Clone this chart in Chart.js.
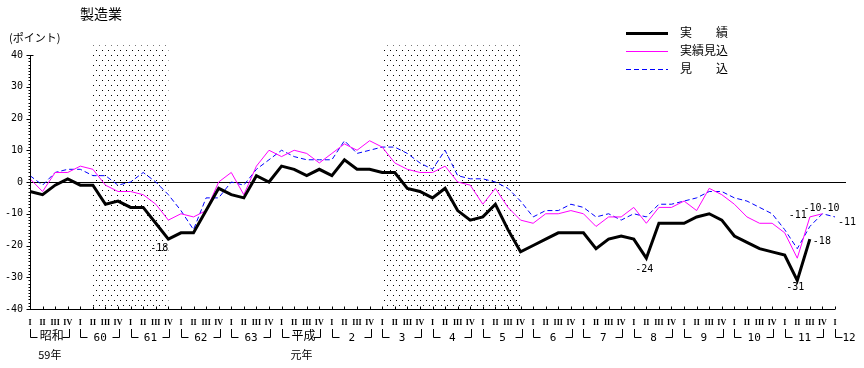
<!DOCTYPE html>
<html>
<head>
<meta charset="utf-8">
<script src="https://cdn.jsdelivr.net/npm/chart.js@4.4.1/dist/chart.umd.min.js"></script>
<style>
  html, body { margin: 0; padding: 0; background: #fff; }
  canvas { display: block; }
</style>
</head>
<body>
<canvas id="chart" width="864" height="368"></canvas>
<script>
// quarter / year tick labels
const quarterNames = ["I", "II", "III", "IV"];
const yearNames = ["昭和", "60", "61", "62", "63", "平成", "2", "3", "4", "5", "6", "7", "8", "9", "10", "11", "12"];
const yearNotes = ["59年", "", "", "", "", "元年", "", "", "", "", "", "", "", "", "", "", ""];
const yTicks = [40, 30, 20, 10, 0, -10, -20, -30, -40];

// 実績 (actual)
const actual = [-3, -4, -1, 1, -1, -1, -7, -6, -8, -8, -13, -18, -16, -16, -9, -2,
  -4, -5, 2, 0, 5, 4, 2, 4, 2, 7, 4, 4, 3, 3, -2, -3,
  -5, -2, -9, -12, -11, -7, -15, -22, -20, -18, -16, -16, -16, -21, -18, -17,
  -18, -24, -13, -13, -13, -11, -10, -12, -17, -19, -21, -22, -23, -31, -18];
// 実績見込 (estimate)
const estimate = [1, -3, 3, 3, 5, 4, -1, -3, -3, -4, -7, -12, -10, -11, -9, 0,
  3, -4, 5, 10, 8, 10, 9, 6, 9, 12, 10, 13, 11, 6, 4, 3,
  3, 5, 0, -1, -7, -2, -8, -12, -13, -10, -10, -9, -10, -14, -11, -11,
  -8, -13, -8, -8, -6, -9, -2, -4, -7, -11, -13, -13, -16, -24, -11, -10];
// 見込 (forecast)
const forecast = [2, -1, 3, 4, 4, 2, 2, -1, 0, 3, 0, -4, -9, -15, -5, -5,
  0, -1, 4, 7, 10, 8, 7, 7, 7, 13, 9, 10, 11, 11, 9, 6,
  4, 10, 2, 1, 1, 0, -2, -6, -11, -9, -9, -7, -8, -11, -10, -12,
  -10, -11, -7, -7, -6, -5, -3, -3, -5, -6, -8, -10, -15, -21, -14, -10, -11];

// shaded periods (quarter index from..to)
const recessions = [[5, 11], [28, 39]];

// points that carry a value label
const actualMarks = [11, 49, 61, 62];
const estimateMarks = [62, 63];
const forecastMarks = [63, 64];

const labels = [];
yearNames.forEach((y, i) => {
  const n = i === yearNames.length - 1 ? 1 : 4;
  for (let q = 0; q < n; q++) labels.push(y + " " + quarterNames[q]);
});

const JP = "'Noto Sans CJK JP', sans-serif";
const NUM = "'DejaVu Sans Mono', monospace";

function dotPattern(ctx) {
  const c = document.createElement("canvas");
  c.width = 6;
  c.height = 10;
  const p = c.getContext("2d");
  p.fillStyle = "#000";
  p.fillRect(0, 0, 1, 1);
  p.fillRect(3, 5, 1, 1);
  return ctx.createPattern(c, "repeat");
}

const backdrop = {
  id: "backdrop",
  beforeDatasetsDraw(chart) {
    const { ctx, chartArea, scales: { x, y } } = chart;
    ctx.save();
    ctx.fillStyle = dotPattern(ctx);
    recessions.forEach(([a, b]) => {
      const x0 = x.getPixelForValue(a), x1 = x.getPixelForValue(b);
      const top = y.getPixelForValue(43);
      ctx.fillRect(x0, top, x1 - x0, chartArea.bottom - top);
    });
    // zero line
    ctx.strokeStyle = "#000";
    ctx.lineWidth = 1.2;
    ctx.beginPath();
    ctx.moveTo(chartArea.left, Math.round(y.getPixelForValue(0)) + 0.5);
    ctx.lineTo(chartArea.right + 11, Math.round(y.getPixelForValue(0)) + 0.5);
    ctx.stroke();
    ctx.restore();
  }
};

const decorations = {
  id: "decorations",
  afterDraw(chart) {
    const { ctx, chartArea, scales: { x, y } } = chart;
    const ds = chart.data.datasets;
    ctx.save();
    ctx.fillStyle = "#000";
    ctx.strokeStyle = "#000";

    // title and unit
    ctx.font = "14px " + JP;
    ctx.textBaseline = "middle";
    ctx.textAlign = "left";
    ctx.fillText("製造業", 80, 14);
    ctx.font = "11px " + JP;
    ctx.fillText("(ポイント)", 9, 38);

    // y axis
    const ax = chartArea.left + 0.5;
    ctx.lineWidth = 1;
    ctx.beginPath();
    ctx.moveTo(ax, chartArea.top);
    ctx.lineTo(ax, chartArea.bottom);
    for (let v = -40; v <= 40; v++) {
      const py = Math.round(y.getPixelForValue(v)) + 0.5;
      const len = v % 10 === 0 ? 4 : 2;
      ctx.moveTo(ax - len, py);
      ctx.lineTo(ax, py);
    }
    [40, -40].forEach(v => {
      const py = Math.round(y.getPixelForValue(v)) + 0.5;
      ctx.moveTo(ax, py);
      ctx.lineTo(ax + 3, py);
    });
    // x axis
    const by = Math.round(chartArea.bottom) + 0.5;
    ctx.moveTo(chartArea.left, by);
    ctx.lineTo(chartArea.right, by);
    labels.forEach((_, i) => {
      const px = Math.round(x.getPixelForValue(i)) + 0.5;
      ctx.moveTo(px, by);
      ctx.lineTo(px, by - 3);
    });
    ctx.stroke();

    ctx.font = "10px " + NUM;
    ctx.textAlign = "right";
    yTicks.forEach(v => ctx.fillText(String(v), 23, y.getPixelForValue(v)));

    // quarter numerals
    ctx.font = "bold 8px 'Liberation Serif', serif";
    ctx.textAlign = "center";
    labels.forEach((l, i) => ctx.fillText(quarterNames[i % 4], x.getPixelForValue(i), 323));

    // year brackets
    ctx.lineWidth = 1;
    ctx.beginPath();
    yearNames.forEach((name, k) => {
      const xa = Math.round(x.getPixelForValue(k * 4)) + 0.5;
      ctx.moveTo(xa, 329);
      ctx.lineTo(xa, 337.5);
      ctx.lineTo(xa + 7, 337.5);
      if (k < yearNames.length - 1) {
        const xb = Math.round(x.getPixelForValue(k * 4 + 3)) + 1.5;
        ctx.moveTo(xb, 329);
        ctx.lineTo(xb, 337.5);
        ctx.lineTo(xb - 7, 337.5);
      }
    });
    ctx.stroke();
    yearNames.forEach((name, k) => {
      const last = k === yearNames.length - 1;
      const xa = x.getPixelForValue(k * 4);
      const mid = last ? xa + 14 : (xa + x.getPixelForValue(k * 4 + 3)) / 2 + 1;
      const cjk = /[^\d]/.test(name);
      ctx.font = cjk ? "12px " + JP : "11px " + NUM;
      ctx.textAlign = "center";
      ctx.fillText(name, mid + (cjk ? 2 : 0), cjk ? 335 : 338);
      if (yearNotes[k]) {
        ctx.font = "11px " + JP;
        ctx.fillText(yearNotes[k], mid, 355);
      }
    });

    // value labels
    ctx.font = "10px " + NUM;
    const put = (dsIndex, i, dx, dy, align) => {
      const v = ds[dsIndex].data[i];
      ctx.textAlign = align;
      ctx.fillText(String(v), x.getPixelForValue(i) + dx, y.getPixelForValue(v) + dy);
    };
    const actualPos = { 11: [-9, 9, "center"], 49: [-2, 11, "center"], 61: [-2, 7, "center"], 62: [3, 2, "left"] };
    const estimatePos = { 62: [-3, -2, "right"], 63: [-10, -5, "center"] };
    const forecastPos = { 63: [8, -5, "center"], 64: [3, 5, "left"] };
    actualMarks.forEach(i => put(0, i, ...actualPos[i]));
    estimateMarks.forEach(i => put(1, i, ...estimatePos[i]));
    forecastMarks.forEach(i => put(2, i, ...forecastPos[i]));

    // legend
    const items = [
      { ds: ds[0], text: "実　　績", y: 33 },
      { ds: ds[1], text: "実績見込", y: 51 },
      { ds: ds[2], text: "見　　込", y: 69 }
    ];
    items.forEach(it => {
      ctx.save();
      ctx.strokeStyle = it.ds.borderColor;
      ctx.lineWidth = it.ds.borderWidth;
      ctx.setLineDash(it.ds.borderDash || []);
      ctx.beginPath();
      ctx.moveTo(626, it.y + 0.5);
      ctx.lineTo(668, it.y + 0.5);
      ctx.stroke();
      ctx.restore();
      ctx.font = "12px " + JP;
      ctx.textAlign = "left";
      ctx.fillText(it.text, 680, it.y - 1);
    });
    ctx.restore();
  }
};

new Chart(document.getElementById("chart"), {
  type: "line",
  data: {
    labels: labels,
    datasets: [
      { label: "実績", data: actual, borderColor: "#000000", borderWidth: 3, pointRadius: 0, tension: 0, order: 0 },
      { label: "実績見込", data: estimate, borderColor: "#ff00ff", borderWidth: 1, pointRadius: 0, tension: 0, order: 1 },
      { label: "見込", data: forecast, borderColor: "#0000ff", borderWidth: 1, borderDash: [5, 3], pointRadius: 0, tension: 0, order: 2 }
    ]
  },
  options: {
    responsive: false,
    animation: false,
    layout: { padding: { left: 30, right: 29, top: 55, bottom: 59 } },
    scales: {
      x: { type: "category", offset: false, display: false },
      y: { min: -40, max: 40, display: false }
    },
    plugins: { legend: { display: false }, tooltip: { enabled: false } }
  },
  plugins: [backdrop, decorations]
});
</script>
</body>
</html>
